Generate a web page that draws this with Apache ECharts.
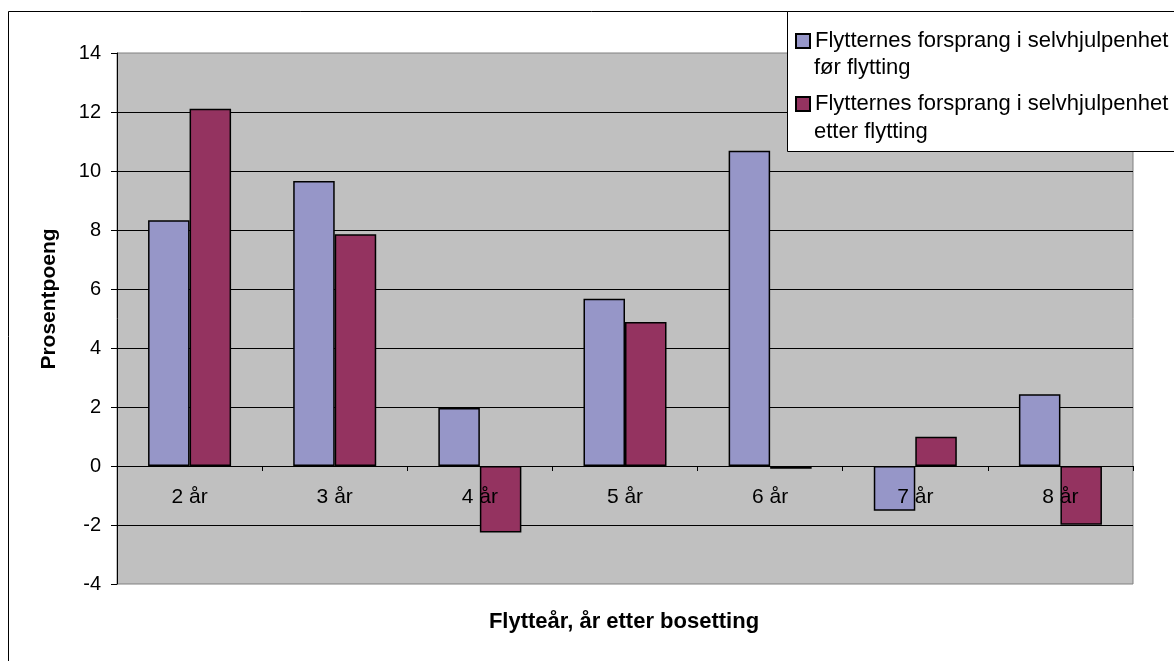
<!DOCTYPE html>
<html>
<head>
<meta charset="utf-8">
<script src="https://cdn.jsdelivr.net/npm/echarts@6/dist/echarts.min.js"></script>
<style>
  html, body { margin: 0; padding: 0; background: #fff; }
  #chart { width: 1174px; height: 661px; }
</style>
</head>
<body>
<div id="chart"></div>
<script>
// data
const categories = ['2 år', '3 år', '4 år', '5 år', '6 år', '7 år', '8 år'];
const seriesNames = [
  'Flytternes forsprang i selvhjulpenhet\nfør flytting',
  'Flytternes forsprang i selvhjulpenhet\netter flytting'
];
const forValues = [8.33, 9.66, 1.97, 5.67, 10.69, -1.52, 2.43];
const etterValues = [12.11, 7.86, -2.25, 4.88, -0.09, 0.99, -1.99];
const yTicks = { min: -4, max: 14, interval: 2 };

const font = 'Liberation Sans, Arial, sans-serif';
const chart = echarts.init(document.getElementById('chart'));

// grid geometry, x axis sits on the zero line
const gridTop = 53, gridBottom = 77;
const plotH = 661 - gridTop - gridBottom;
const zeroOffset = -plotH * (0 - yTicks.min) / (yTicks.max - yTicks.min);

const option = {
  animation: false,
  backgroundColor: '#fff',
  grid: {
    left: 117, right: 41, top: gridTop, bottom: gridBottom,
    show: true,
    backgroundColor: '#c0c0c0',
    borderColor: '#808080',
    borderWidth: 1
  },
  legend: {
    orient: 'vertical',
    left: 795,
    top: 26,
    padding: 0,
    itemWidth: 14,
    itemHeight: 14,
    itemGap: 33,
    icon: 'rect',
    z: 6,
    formatter: name => name.split('\n')[0],
    textStyle: { fontFamily: font, fontSize: 22, color: '#000', lineHeight: 30 }
  },
  xAxis: {
    type: 'category',
    data: categories,
    z: 5,
    offset: zeroOffset,
    axisLine: { onZero: false, lineStyle: { color: '#000', width: 1 } },
    axisTick: { show: true, length: 5, lineStyle: { color: '#000' } },
    axisLabel: { margin: 21, fontFamily: font, fontSize: 21, color: '#000' },
    splitLine: { show: false }
  },
  yAxis: {
    type: 'value',
    min: yTicks.min,
    max: yTicks.max,
    interval: yTicks.interval,
    axisLine: { show: true, lineStyle: { color: '#000', width: 1 } },
    axisTick: { show: true, length: 6, lineStyle: { color: '#000' } },
    axisLabel: { margin: 16, fontFamily: font, fontSize: 20, color: '#000' },
    splitLine: { show: true, showMinLine: false, showMaxLine: false, lineStyle: { color: '#000', width: 1 } }
  },
  series: [
    {
      name: seriesNames[0],
      type: 'bar',
      data: forValues,
      barWidth: '28.6%',
      barGap: '0%',
      itemStyle: { color: '#9696c8', borderColor: '#000', borderWidth: 1.5 }
    },
    {
      name: seriesNames[1],
      type: 'bar',
      data: etterValues,
      barWidth: '28.6%',
      barGap: '0%',
      itemStyle: { color: '#943360', borderColor: '#000', borderWidth: 1.5 }
    }
  ],
  graphic: [
    {
      type: 'rect',
      z: 0,
      silent: true,
      shape: { x: 8.5, y: 11.5, width: 1300, height: 800 },
      style: { fill: 'none', stroke: '#000', lineWidth: 1 }
    },
    {
      type: 'rect',
      z: 3,
      silent: true,
      shape: { x: 787.5, y: 11.5, width: 500, height: 140 },
      style: { fill: '#fff', stroke: '#000', lineWidth: 1 }
    },
    {
      type: 'text',
      z: 6,
      x: 814,
      y: 68,
      style: { text: seriesNames[0].split('\n')[1], font: '22px ' + font, fill: '#000', verticalAlign: 'middle' }
    },
    {
      type: 'text',
      z: 6,
      x: 814,
      y: 132,
      style: { text: seriesNames[1].split('\n')[1], font: '22px ' + font, fill: '#000', verticalAlign: 'middle' }
    },
    {
      type: 'text',
      x: 49,
      y: 299,
      rotation: Math.PI / 2,
      style: {
        text: 'Prosentpoeng',
        font: 'bold 21px ' + font,
        fill: '#000',
        align: 'center',
        verticalAlign: 'middle'
      }
    },
    {
      type: 'text',
      x: 624,
      y: 622,
      style: {
        text: 'Flytteår, år etter bosetting',
        font: 'bold 22px ' + font,
        fill: '#000',
        align: 'center',
        verticalAlign: 'middle'
      }
    }
  ]
};

chart.setOption(option);
window.addEventListener('resize', () => chart.resize());
</script>
</body>
</html>
